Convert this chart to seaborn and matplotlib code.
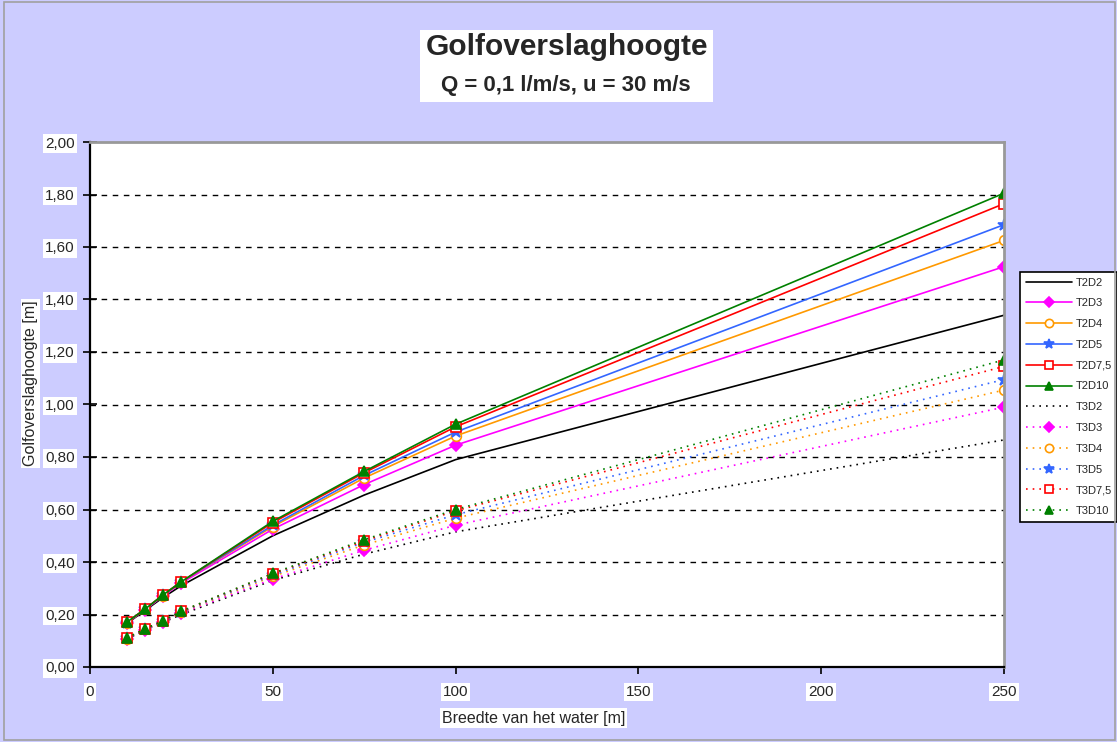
import numpy as np
import pandas as pd
import matplotlib
matplotlib.use("Agg")
import matplotlib.pyplot as plt
from matplotlib.ticker import FuncFormatter, MultipleLocator
from matplotlib.patches import Rectangle
import seaborn as sns

# ---- data ----
breedte = [10, 15, 20, 25, 50, 75, 100, 250]

T2D2 = [0.165, 0.215, 0.265, 0.310, 0.500, 0.655, 0.790, 1.340]
T2D3 = [0.167, 0.218, 0.270, 0.320, 0.525, 0.695, 0.845, 1.525]
T2D4 = [0.168, 0.220, 0.272, 0.325, 0.535, 0.720, 0.880, 1.625]
T2D5 = [0.169, 0.220, 0.273, 0.325, 0.540, 0.730, 0.895, 1.685]
T2D7_5 = [0.170, 0.220, 0.275, 0.325, 0.550, 0.740, 0.915, 1.765]
T2D10 = [0.170, 0.220, 0.275, 0.325, 0.555, 0.745, 0.925, 1.805]

T3D2 = [0.105, 0.140, 0.170, 0.200, 0.330, 0.430, 0.515, 0.865]
T3D3 = [0.107, 0.142, 0.172, 0.205, 0.335, 0.445, 0.540, 0.990]
T3D4 = [0.108, 0.143, 0.174, 0.208, 0.345, 0.465, 0.567, 1.055]
T3D5 = [0.109, 0.144, 0.175, 0.210, 0.350, 0.475, 0.580, 1.095]
T3D7_5 = [0.110, 0.145, 0.176, 0.212, 0.355, 0.480, 0.595, 1.145]
T3D10 = [0.110, 0.145, 0.177, 0.213, 0.357, 0.485, 0.600, 1.170]

series_names = ["T2D2", "T2D3", "T2D4", "T2D5", "T2D7,5", "T2D10",
                "T3D2", "T3D3", "T3D4", "T3D5", "T3D7,5", "T3D10"]
series_values = [T2D2, T2D3, T2D4, T2D5, T2D7_5, T2D10,
                 T3D2, T3D3, T3D4, T3D5, T3D7_5, T3D10]

title = "Golfoverslaghoogte"
subtitle = "Q = 0,1 l/m/s, u = 30 m/s"
xlabel = "Breedte van het water [m]"
ylabel = "Golfoverslaghoogte [m]"

# ---- styles ----
colors = ["#000000", "#FF00FF", "#FF9900", "#3366FF", "#FF0000", "#008000"]
markers = [None, "D", "o", "*", "s", "^"]
fills = [True, True, False, True, False, True]
bg = "#CCCCFF"

sns.set_theme(style="white")
plt.rcParams["font.family"] = ["Liberation Sans", "DejaVu Sans"]

fig = plt.figure(figsize=(11.17, 7.42), dpi=100)
fig.patch.set_facecolor(bg)
ax = fig.add_axes([90 / 1117, 1 - 667 / 742, 914 / 1117, 525 / 742])
ax.set_facecolor("white")

# outer chart border
fig.patches.append(Rectangle((4 / 1117, 2 / 742), 1 - 6 / 1117, 1 - 4 / 742,
                             transform=fig.transFigure, fill=False,
                             edgecolor="#A0A0A0", linewidth=1.2))

for i, (name, vals) in enumerate(zip(series_names, series_values)):
    k = i % 6
    c = colors[k]
    ls = "-" if i < 6 else (0, (1, 3))
    m = markers[k]
    kw = dict(marker=m, markersize=7, markeredgecolor=c,
              markerfacecolor=(c if fills[k] else "white"),
              markeredgewidth=1.2)
    if m == "D":
        kw["markersize"] = 6
    if m == "*":
        kw["markersize"] = 9
    if m is None:
        kw = {}
    sns.lineplot(x=breedte, y=vals, ax=ax, color=c, linestyle=ls,
                 linewidth=1.2, label=name, **kw)

ax.set_xlim(0, 250)
ax.set_ylim(0, 2.0)
ax.xaxis.set_major_locator(MultipleLocator(50))
ax.yaxis.set_major_locator(MultipleLocator(0.2))
ax.yaxis.set_major_formatter(FuncFormatter(lambda v, p: f"{v:.2f}".replace(".", ",")))

for yv in np.arange(0.2, 1.81, 0.2):
    ax.axhline(yv, color="black", linestyle=(0, (4, 4)), linewidth=1.0, zorder=0.5)

for s in ["left", "bottom"]:
    ax.spines[s].set_color("black")
    ax.spines[s].set_linewidth(1.6)
for s in ["top", "right"]:
    ax.spines[s].set_color("#999999")
    ax.spines[s].set_linewidth(2.0)

ax.tick_params(axis="y", direction="inout", length=10, width=1.2, color="black",
               left=True, labelsize=11, pad=6)
ax.tick_params(axis="x", direction="out", length=5, width=1.2, color="black",
               bottom=True, labelsize=11, pad=8)
for lab in ax.get_xticklabels() + ax.get_yticklabels():
    lab.set_bbox(dict(facecolor="white", edgecolor="none", pad=1.5))

ax.set_xlabel(xlabel, fontsize=11.5,
              bbox=dict(facecolor="white", edgecolor="none", pad=1.5))
ax.xaxis.set_label_coords(0.485, -0.083)
ax.set_ylabel(ylabel, fontsize=11.5,
              bbox=dict(facecolor="white", edgecolor="none", pad=1.5))
ax.yaxis.set_label_coords(-0.057, 0.54)

# title box
fig.patches.append(Rectangle((420 / 1117, 1 - 102 / 742), 293 / 1117, 72 / 742,
                             transform=fig.transFigure, facecolor="white",
                             edgecolor="none", zorder=0))
fig.text(567 / 1117, 1 - 47 / 742, title, ha="center", va="center",
         fontsize=21.5, fontweight="bold")
fig.text(566 / 1117, 1 - 86 / 742, subtitle, ha="center", va="center",
         fontsize=16, fontweight="bold")

leg = ax.legend(loc="upper left", bbox_to_anchor=(1020 / 1117, 1 - 272 / 742),
                bbox_transform=fig.transFigure, fontsize=8, frameon=True,
                fancybox=False, edgecolor="black", framealpha=1,
                handlelength=4.2, handletextpad=0.3, labelspacing=0.97,
                borderpad=0.5, borderaxespad=0, markerscale=0.85)
leg.get_frame().set_linewidth(1.2)

fig.savefig("out.png", dpi=100, facecolor=bg)
